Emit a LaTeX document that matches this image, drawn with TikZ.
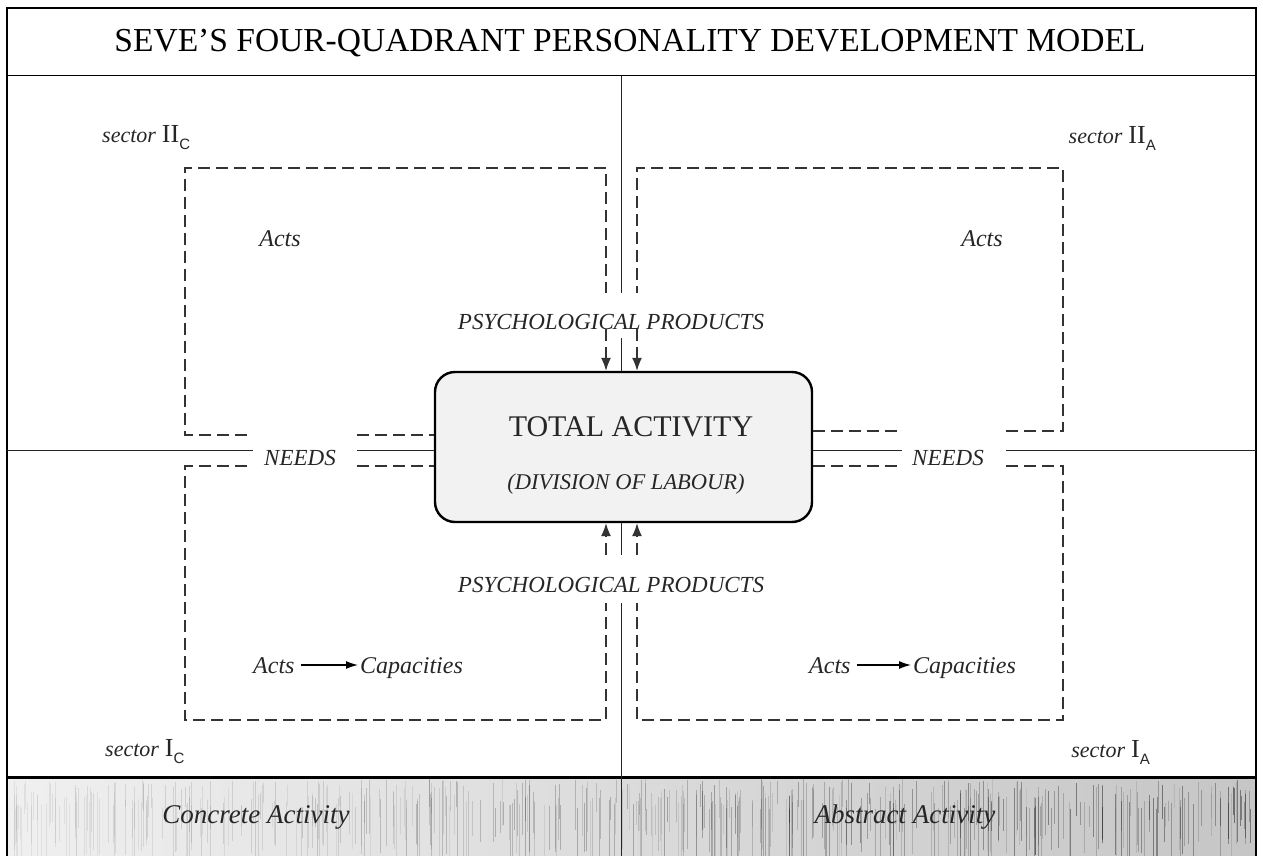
\documentclass[tikz,border=0pt]{standalone}
\usepackage{fontspec}
\setmainfont{Liberation Serif}
\setsansfont{Liberation Sans}
\usetikzlibrary{arrows.meta,calc}
\newcommand{\fsz}[1]{\fontsize{#1}{#1}\selectfont}
\newcommand{\sectlabel}[2]{{\itshape\fsz{22}sector}\hspace{6pt}{\fsz{26}#1}\raisebox{-7pt}{\sffamily\fsz{15}#2}}
\begin{document}
\begin{tikzpicture}[x=1pt,y=-1pt,
  thinline/.style={line width=1pt, black!85},
  dashline/.style={line width=1.2pt, black!80, dash pattern=on 12pt off 6pt},
  arr/.style={-{Latex[length=13pt,width=10pt]}},
  lbl/.style={font=\itshape\fsz{23}, inner sep=0pt, text=black!85},
  band/.style={font=\itshape\fsz{27}, inner sep=0pt, text=black!85},
  sectornode/.style={inner sep=0pt, text=black!85}]
\useasboundingbox (0,0) rectangle (1263,856);

% bottom band
\shade[left color=gray!12, right color=gray!45] (7,777) rectangle (1256,856);
\pgfmathsetseed{42}
\foreach \i in {1,...,480}{
  \pgfmathsetmacro{\xx}{7+rnd*1249}
  \pgfmathsetmacro{\op}{0.06+0.4*rnd*(\xx/1256)}
  \pgfmathsetmacro{\ya}{779+rnd*30}
  \pgfmathsetmacro{\yb}{\ya+20+rnd*60}
  \draw[line width=0.9pt, black, opacity=\op] (\xx,\ya) -- (\xx,{min(\yb,856)});
}

% frame
\draw[line width=2pt] (7,856) -- (7,8) -- (1256,8) -- (1256,856);
\draw[line width=1pt] (7,76) -- (1256,76);
\draw[line width=3pt] (7,777) -- (1256,777);
\draw[thinline] (621,777) -- (621,856);

% title
\node[inner sep=0pt, font=\fsz{33.5}] (title) at (630,43) {SEVE'S FOUR-QUADRANT PERSONALITY DEVELOPMENT MODEL};

% central box
\node[draw, line width=2.4pt, rounded corners=20pt, fill=gray!10,
      minimum width=377pt, minimum height=150pt, inner sep=0pt] (box) at (623.5,447) {};
\node[inner sep=0pt, font=\fsz{30}, text=black!85] (total) at (631,427) {TOTAL ACTIVITY};
\node[inner sep=0pt, font=\itshape\fsz{22.5}, text=black!85] (division) at (626,484) {(DIVISION OF LABOUR)};

% labels
\node[lbl] (pptop) at (611,322) {PSYCHOLOGICAL PRODUCTS};
\node[lbl] (ppbot) at (611,585) {PSYCHOLOGICAL PRODUCTS};
\node[lbl] (needsL) at (300,458) {NEEDS};
\node[lbl] (needsR) at (948,458) {NEEDS};
\node[lbl, font=\itshape\fsz{24}] (actsTL) at (280,239) {Acts};
\node[lbl, font=\itshape\fsz{24}] (actsTR) at (982,239) {Acts};
\node[lbl, font=\itshape\fsz{24}, anchor=base west] (actsBL) at (253,673) {Acts};
\node[lbl, font=\itshape\fsz{24}, anchor=base west] (capBL) at (360,673) {Capacities};
\node[lbl, font=\itshape\fsz{24}, anchor=base west] (actsBR) at (809,673) {Acts};
\node[lbl, font=\itshape\fsz{24}, anchor=base west] (capBR) at (913,673) {Capacities};
\draw[line width=1.3pt, -{Latex[length=12pt,width=8pt]}] ($(actsBL.base east)+(6,-8)$) -- ($(capBL.base west)+(-2,-8)$);
\draw[line width=1.3pt, -{Latex[length=12pt,width=8pt]}] ($(actsBR.base east)+(6,-8)$) -- ($(capBR.base west)+(-2,-8)$);

% sector labels
\node[sectornode, anchor=west] (s2c) at (102,138) {\sectlabel{II}{C}};
\node[sectornode, anchor=east] (s2a) at (1156,138) {\sectlabel{II}{A}};
\node[sectornode, anchor=west] (s1c) at (105,752) {\sectlabel{I}{C}};
\node[sectornode, anchor=east] (s1a) at (1150,752) {\sectlabel{I}{A}};

% band labels
\node[band] (concrete) at (256,817) {Concrete Activity};
\node[band] (abstract) at (905,817) {Abstract Activity};

% solid axes
\draw[thinline] (621,76) -- (621,293);
\draw[thinline] (621,338) -- (621,0 |- box.north);
\draw[thinline] (621,0 |- box.south) -- (621,555);
\draw[thinline] (621,603) -- (621,777);
\draw[thinline] (7,450) -- (253,450);
\draw[thinline] (357,450) -- (box.west |- 0,450);
\draw[thinline] (box.east |- 0,450) -- (902,450);
\draw[thinline] (1006,450) -- (1256,450);

% quadrant dashed paths
\draw[dashline] (247,435) -- (185,435) -- (185,168) -- (606,168) -- (606,293);
\draw[dashline] (1006,431) -- (1063,431) -- (1063,168) -- (637,168) -- (637,293);
\draw[dashline] (247,466) -- (185,466) -- (185,720) -- (606,720) -- (606,603);
\draw[dashline] (1006,466) -- (1063,466) -- (1063,720) -- (637,720) -- (637,603);

% needs dashed to box
\draw[dashline] (357,435) -- (box.west |- 0,435);
\draw[dashline] (357,466) -- (box.west |- 0,466);
\draw[dashline] (box.east |- 0,431) -- (898,431);
\draw[dashline] (box.east |- 0,466) -- (898,466);

% arrows into box
\draw[dashline, arr] (606,329) -- (606,0 |- box.north);
\draw[dashline, arr] (637,329) -- (637,0 |- box.north);
\draw[dashline, arr] (606,555) -- (606,0 |- box.south);
\draw[dashline, arr] (637,555) -- (637,0 |- box.south);
\end{tikzpicture}
\end{document}
